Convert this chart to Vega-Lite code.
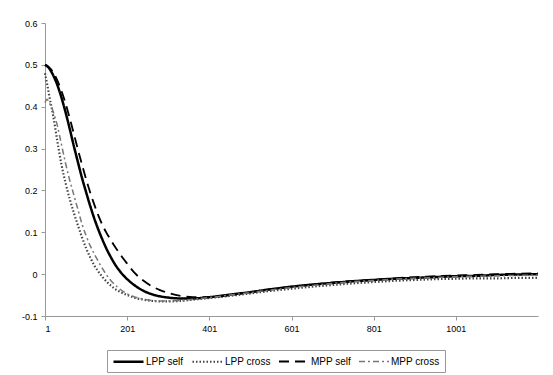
{
  "$schema": "https://vega.github.io/schema/vega-lite/v6.json",
  "width": 493,
  "height": 293,
  "autosize": {"type": "none"},
  "padding": {"left": 45, "top": 23, "right": 15, "bottom": 59},
  "background": "white",
  "config": {
    "view": {"stroke": null},
    "font": "Liberation Sans",
    "axis": {"labelFont": "Liberation Sans", "labelFontSize": 9, "labelColor": "#000", "domainColor": "#999", "tickColor": "#999", "tickSize": 4, "grid": false, "title": null},
    "legend": {
      "orient": "none", "legendX": 62, "legendY": 327, "direction": "horizontal",
      "strokeColor": "#999999", "fillColor": "#ffffff", "padding": 5, "columnPadding": 4,
      "symbolType": "M-1,0H5", "symbolSize": 100, "labelOffset": 21, "labelFontSize": 10, "labelColor": "#000", "labelFont": "Liberation Sans"
    }
  },
  "data": {
    "values": [
      {"lag": 1, "LPP self": 0.500, "LPP cross": 0.480, "MPP self": 0.500, "MPP cross": 0.410},
      {"lag": 6, "LPP self": 0.497, "LPP cross": 0.455, "MPP self": 0.498, "MPP cross": 0.418},
      {"lag": 11, "LPP self": 0.492, "LPP cross": 0.428, "MPP self": 0.494, "MPP cross": 0.410},
      {"lag": 21, "LPP self": 0.475, "LPP cross": 0.378, "MPP self": 0.482, "MPP cross": 0.388},
      {"lag": 31, "LPP self": 0.452, "LPP cross": 0.318, "MPP self": 0.463, "MPP cross": 0.355},
      {"lag": 41, "LPP self": 0.422, "LPP cross": 0.262, "MPP self": 0.438, "MPP cross": 0.310},
      {"lag": 51, "LPP self": 0.387, "LPP cross": 0.218, "MPP self": 0.408, "MPP cross": 0.265},
      {"lag": 61, "LPP self": 0.348, "LPP cross": 0.180, "MPP self": 0.373, "MPP cross": 0.225},
      {"lag": 71, "LPP self": 0.307, "LPP cross": 0.147, "MPP self": 0.336, "MPP cross": 0.190},
      {"lag": 81, "LPP self": 0.268, "LPP cross": 0.117, "MPP self": 0.298, "MPP cross": 0.155},
      {"lag": 91, "LPP self": 0.230, "LPP cross": 0.088, "MPP self": 0.262, "MPP cross": 0.120},
      {"lag": 101, "LPP self": 0.196, "LPP cross": 0.062, "MPP self": 0.227, "MPP cross": 0.092},
      {"lag": 111, "LPP self": 0.163, "LPP cross": 0.040, "MPP self": 0.195, "MPP cross": 0.068},
      {"lag": 121, "LPP self": 0.133, "LPP cross": 0.021, "MPP self": 0.166, "MPP cross": 0.048},
      {"lag": 131, "LPP self": 0.106, "LPP cross": 0.006, "MPP self": 0.140, "MPP cross": 0.030},
      {"lag": 141, "LPP self": 0.082, "LPP cross": -0.007, "MPP self": 0.117, "MPP cross": 0.013},
      {"lag": 151, "LPP self": 0.060, "LPP cross": -0.018, "MPP self": 0.098, "MPP cross": -0.002},
      {"lag": 161, "LPP self": 0.041, "LPP cross": -0.027, "MPP self": 0.082, "MPP cross": -0.015},
      {"lag": 171, "LPP self": 0.024, "LPP cross": -0.035, "MPP self": 0.066, "MPP cross": -0.025},
      {"lag": 181, "LPP self": 0.010, "LPP cross": -0.041, "MPP self": 0.052, "MPP cross": -0.034},
      {"lag": 191, "LPP self": -0.002, "LPP cross": -0.046, "MPP self": 0.038, "MPP cross": -0.041},
      {"lag": 201, "LPP self": -0.012, "LPP cross": -0.050, "MPP self": 0.025, "MPP cross": -0.047},
      {"lag": 221, "LPP self": -0.028, "LPP cross": -0.057, "MPP self": 0.001, "MPP cross": -0.055},
      {"lag": 241, "LPP self": -0.040, "LPP cross": -0.061, "MPP self": -0.016, "MPP cross": -0.060},
      {"lag": 261, "LPP self": -0.048, "LPP cross": -0.064, "MPP self": -0.029, "MPP cross": -0.063},
      {"lag": 281, "LPP self": -0.053, "LPP cross": -0.065, "MPP self": -0.038, "MPP cross": -0.064},
      {"lag": 301, "LPP self": -0.056, "LPP cross": -0.065, "MPP self": -0.045, "MPP cross": -0.064},
      {"lag": 331, "LPP self": -0.058, "LPP cross": -0.064, "MPP self": -0.052, "MPP cross": -0.063},
      {"lag": 361, "LPP self": -0.058, "LPP cross": -0.061, "MPP self": -0.055, "MPP cross": -0.060},
      {"lag": 401, "LPP self": -0.055, "LPP cross": -0.057, "MPP self": -0.055, "MPP cross": -0.056},
      {"lag": 451, "LPP self": -0.049, "LPP cross": -0.052, "MPP self": -0.050, "MPP cross": -0.050},
      {"lag": 501, "LPP self": -0.043, "LPP cross": -0.046, "MPP self": -0.043, "MPP cross": -0.044},
      {"lag": 551, "LPP self": -0.036, "LPP cross": -0.040, "MPP self": -0.036, "MPP cross": -0.038},
      {"lag": 601, "LPP self": -0.030, "LPP cross": -0.035, "MPP self": -0.030, "MPP cross": -0.032},
      {"lag": 651, "LPP self": -0.025, "LPP cross": -0.030, "MPP self": -0.025, "MPP cross": -0.027},
      {"lag": 701, "LPP self": -0.021, "LPP cross": -0.026, "MPP self": -0.020, "MPP cross": -0.022},
      {"lag": 751, "LPP self": -0.017, "LPP cross": -0.022, "MPP self": -0.016, "MPP cross": -0.018},
      {"lag": 801, "LPP self": -0.014, "LPP cross": -0.019, "MPP self": -0.013, "MPP cross": -0.015},
      {"lag": 851, "LPP self": -0.011, "LPP cross": -0.016, "MPP self": -0.010, "MPP cross": -0.012},
      {"lag": 901, "LPP self": -0.009, "LPP cross": -0.014, "MPP self": -0.007, "MPP cross": -0.010},
      {"lag": 951, "LPP self": -0.007, "LPP cross": -0.012, "MPP self": -0.005, "MPP cross": -0.008},
      {"lag": 1001, "LPP self": -0.005, "LPP cross": -0.011, "MPP self": -0.003, "MPP cross": -0.006},
      {"lag": 1051, "LPP self": -0.004, "LPP cross": -0.010, "MPP self": -0.002, "MPP cross": -0.005},
      {"lag": 1101, "LPP self": -0.002, "LPP cross": -0.010, "MPP self": 0.000, "MPP cross": -0.004},
      {"lag": 1151, "LPP self": -0.001, "LPP cross": -0.009, "MPP self": 0.001, "MPP cross": -0.003},
      {"lag": 1201, "LPP self": 0.000, "LPP cross": -0.009, "MPP self": 0.002, "MPP cross": -0.002}
    ]
  },
  "transform": [
    {"fold": ["LPP self", "LPP cross", "MPP self", "MPP cross"], "as": ["series", "val"]}
  ],
  "mark": {"type": "line", "interpolate": "monotone"},
  "encoding": {
    "x": {
      "field": "lag", "type": "quantitative",
      "scale": {"domain": [1, 1201], "nice": false, "zero": false},
      "axis": {"values": [1, 201, 401, 601, 801, 1001], "format": "d", "labelPadding": 4}
    },
    "y": {
      "field": "val", "type": "quantitative",
      "scale": {"domain": [-0.1, 0.6], "nice": false, "zero": false},
      "axis": {"values": [-0.1, 0, 0.1, 0.2, 0.3, 0.4, 0.5, 0.6], "format": ".1~f", "labelExpr": "replace(datum.label, '\u2212', '-')", "labelPadding": 4}
    },
    "color": {
      "field": "series", "type": "nominal", "title": null,
      "scale": {"domain": ["LPP self", "LPP cross", "MPP self", "MPP cross"], "range": ["#000000", "#444444", "#000000", "#777777"]}
    },
    "strokeDash": {
      "field": "series", "type": "nominal", "title": null,
      "scale": {"domain": ["LPP self", "LPP cross", "MPP self", "MPP cross"], "range": [[1, 0], [1.5, 2], [10, 6], [6, 3, 2, 3]]}
    },
    "strokeWidth": {
      "field": "series", "type": "nominal", "title": null,
      "scale": {"domain": ["LPP self", "LPP cross", "MPP self", "MPP cross"], "range": [2.5, 1.5, 2, 1.5]}
    }
  }
}
